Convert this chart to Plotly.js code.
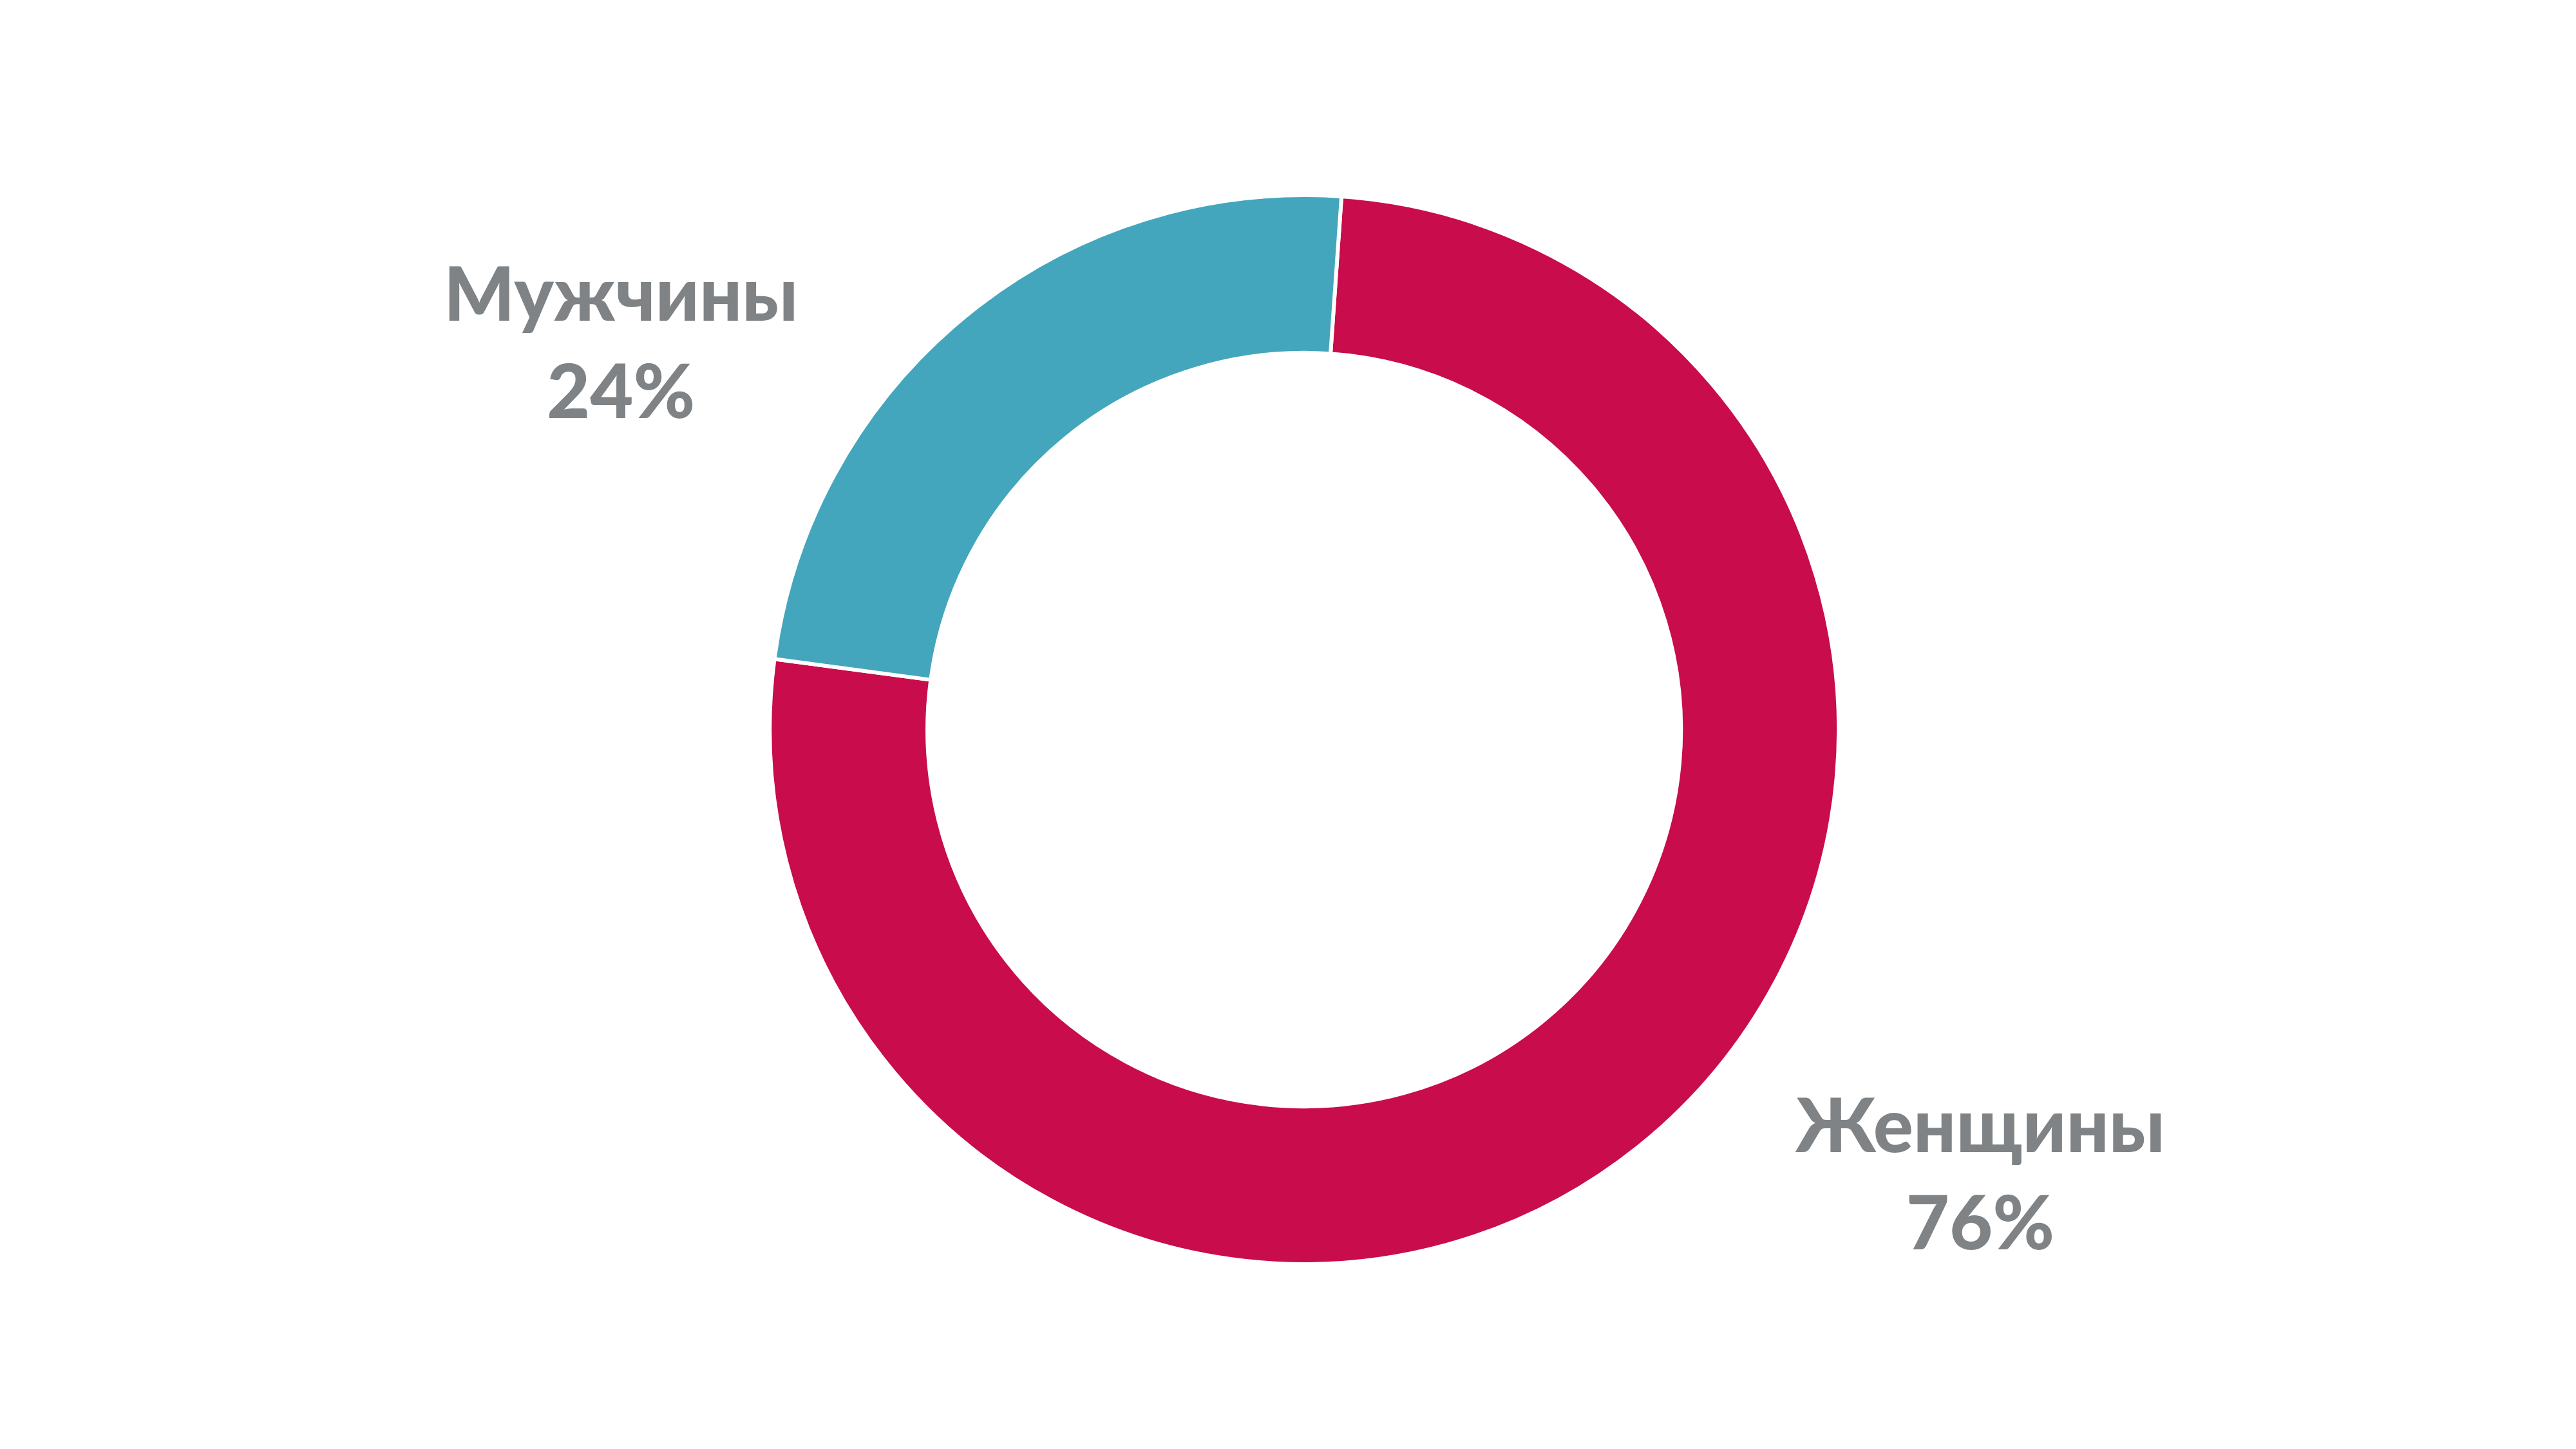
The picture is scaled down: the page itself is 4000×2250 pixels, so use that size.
<!DOCTYPE html>
<html>
<head>
<meta charset="utf-8">
<script src="https://cdn.plot.ly/plotly-3.0.1.min.js"></script>
<style>html,body{margin:0;padding:0;background:#fff;}#chart{width:4000px;height:2250px;}</style>
</head>
<body>
<div id="chart"></div>
<script>
const labels = ["Женщины", "Мужчины"];
const values = [76, 24];
const colors = ["#C80C4C", "#43A6BC"];

const labelPos = [
  {x: 0.7685, y: 0.191},
  {x: 0.241, y: 0.765}
];

const annotations = labels.map((l, i) => ({
  text: l + "<br>" + values[i] + "%",
  x: labelPos[i].x, y: labelPos[i].y,
  xref: "paper", yref: "paper",
  xanchor: "center", yanchor: "middle",
  showarrow: false,
  align: "center",
  font: {family: "Lato, 'Open Sans', sans-serif", size: 116, weight: 900, color: "#7F8385"}
}));

const data = [{
  type: "pie",
  labels: labels,
  values: values,
  hole: 0.705,
  sort: false,
  direction: "clockwise",
  rotation: 4.0,
  textinfo: "none",
  hoverinfo: "label+percent",
  marker: {colors: colors, line: {color: "#FFFFFF", width: 6}},
  domain: {x: [0.2988, 0.7138], y: [0.1276, 0.8653]},
  showlegend: false
}];

const layout = {
  width: 4000, height: 2250,
  margin: {l: 0, r: 0, t: 0, b: 0},
  paper_bgcolor: "#FFFFFF",
  showlegend: false,
  annotations: annotations
};

Plotly.newPlot("chart", data, layout, {displayModeBar: false, staticPlot: true});
</script>
</body>
</html>
